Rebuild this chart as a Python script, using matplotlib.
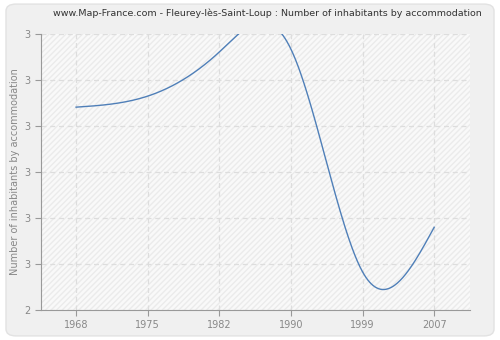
import numpy as np
import matplotlib
matplotlib.use("Agg")
import matplotlib.pyplot as plt
from matplotlib.patches import FancyBboxPatch

years = ["1968", "1975", "1982", "1990", "1999", "2007"]
values = [2.841, 2.865, 2.961, 2.967, 2.483, 2.580]
y_ticks = [2.4, 2.5, 2.6, 2.7, 2.8, 2.9, 3.0]
y_tick_labels = ["2", "3", "3", "3", "3", "3", "3"]

title = "www.Map-France.com - Fleurey-lès-Saint-Loup : Number of inhabitants by accommodation"
ylabel = "Number of inhabitants by accommodation"


def natural_spline(x, y, n=400):
    x = np.asarray(x, float)
    y = np.asarray(y, float)
    m = len(x)
    h = np.diff(x)
    A = np.zeros((m, m))
    b = np.zeros(m)
    A[0, 0] = 1
    A[-1, -1] = 1
    for i in range(1, m - 1):
        A[i, i - 1] = h[i - 1]
        A[i, i] = 2 * (h[i - 1] + h[i])
        A[i, i + 1] = h[i]
        b[i] = 3 * ((y[i + 1] - y[i]) / h[i] - (y[i] - y[i - 1]) / h[i - 1])
    c = np.linalg.solve(A, b)
    xs = np.linspace(x[0], x[-1], n)
    ys = np.empty_like(xs)
    for k, xv in enumerate(xs):
        i = min(np.searchsorted(x, xv, side="right") - 1, m - 2)
        dx = xv - x[i]
        bi = (y[i + 1] - y[i]) / h[i] - h[i] * (2 * c[i] + c[i + 1]) / 3
        di = (c[i + 1] - c[i]) / (3 * h[i])
        ys[k] = y[i] + bi * dx + c[i] * dx ** 2 + di * dx ** 3
    return xs, ys


fig = plt.figure(figsize=(5, 3.4), dpi=100)
fig.patch.set_facecolor("white")
panel = FancyBboxPatch((0.012, 0.012), 0.976, 0.976,
                       boxstyle="round,pad=0,rounding_size=0.02",
                       transform=fig.transFigure, facecolor="#f0f0f0",
                       edgecolor="#e2e2e2", linewidth=1, zorder=-10)
fig.patches.append(panel)

ax = fig.add_axes([0.082, 0.088, 0.858, 0.812])
ax.set_facecolor("#f9f9f9")
ax.add_patch(plt.Rectangle((0, 0), 1, 1, transform=ax.transAxes,
                           facecolor="none", edgecolor="#ebebeb",
                           hatch="//////", linewidth=0, zorder=0))

x = np.arange(len(years))
xs, ys = natural_spline(x, values)
ax.plot(xs, ys, color="#4f7fb8", linewidth=1.0, zorder=3, clip_on=True)

ax.set_xlim(-0.49, 5.5)
ax.set_ylim(2.4, 3.0)
ax.set_xticks(x)
ax.set_xticklabels(years)
ax.set_yticks(y_ticks)
ax.set_yticklabels(y_tick_labels)

ax.grid(True, color="#dddddd", linestyle=(0, (4, 3)), linewidth=0.9)
ax.set_axisbelow(True)
for s in ["top", "right"]:
    ax.spines[s].set_visible(False)
for s in ["left", "bottom"]:
    ax.spines[s].set_color("#999999")
ax.tick_params(colors="#999999", labelcolor="#888888", labelsize=7, length=4, direction="out")

ax.set_ylabel(ylabel, color="#888888", fontsize=7)
ax.yaxis.set_label_coords(-0.05, 0.5)
fig.text(0.535, 0.962, title, ha="center", va="center", fontsize=6.8, color="#333333")

fig.savefig("out.png", dpi=100, facecolor=fig.get_facecolor())
